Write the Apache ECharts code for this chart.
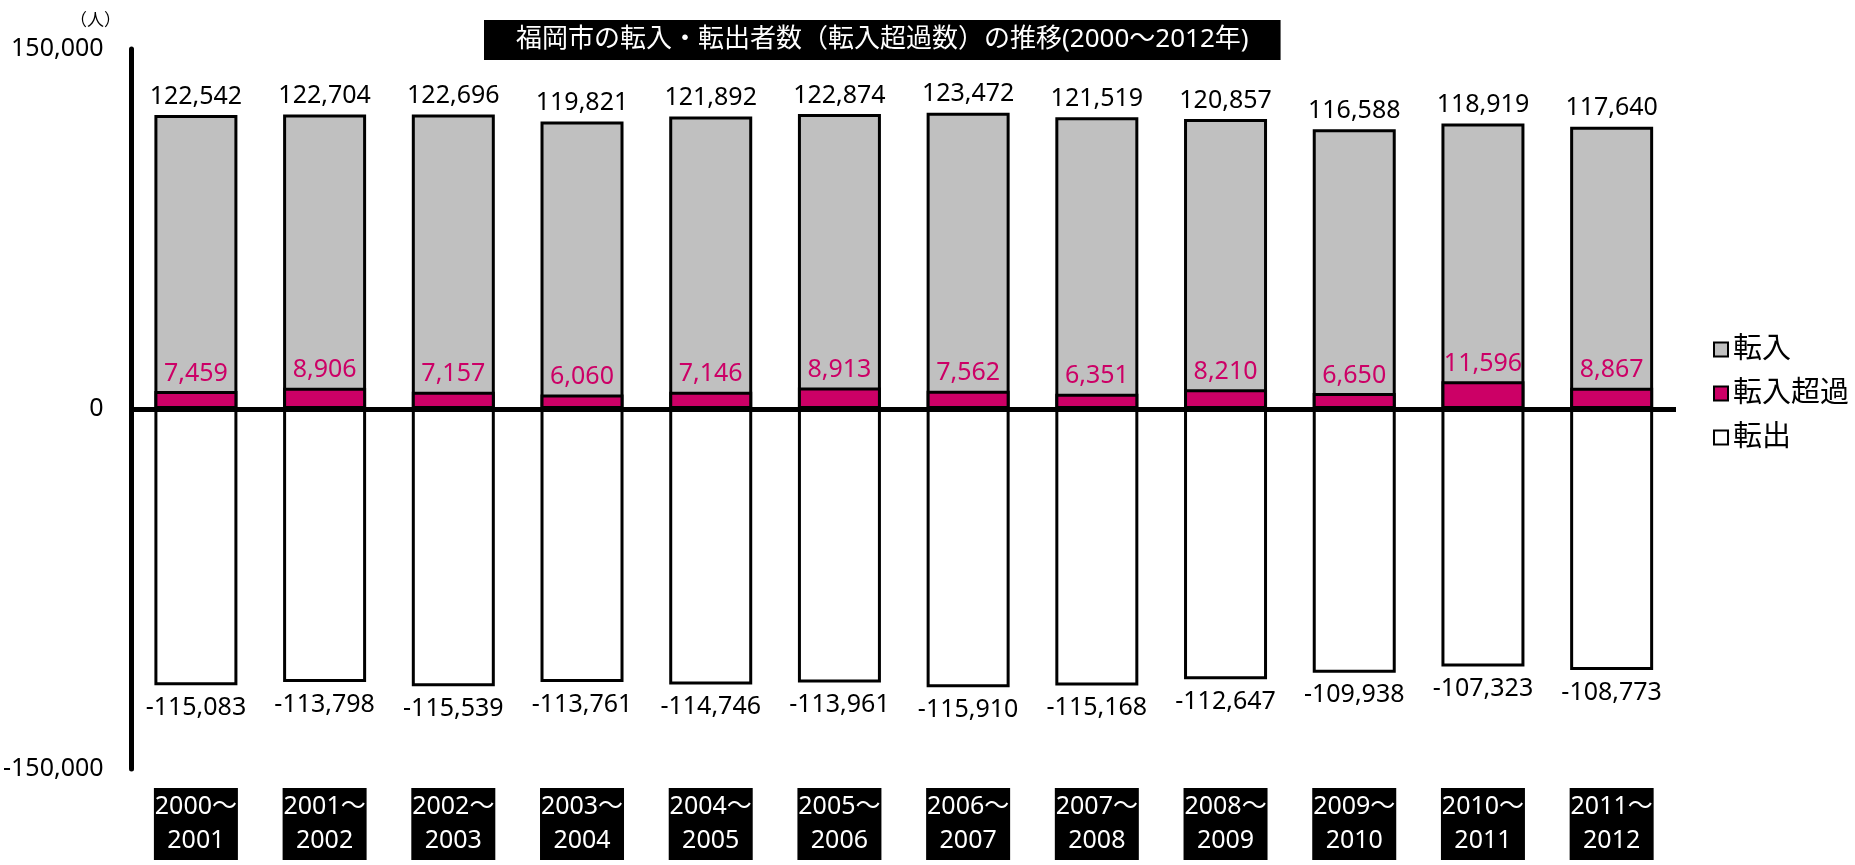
<!DOCTYPE html>
<html>
<head>
<meta charset="utf-8">
<script src="https://cdn.jsdelivr.net/npm/echarts@6/dist/echarts.min.js"></script>
<style>
html,body{margin:0;padding:0;background:#fff;}
#chart{width:1855px;height:865px;}
</style>
</head>
<body>
<div id="chart"></div>
<script>
var categories = ['2000～\n2001','2001～\n2002','2002～\n2003','2003～\n2004','2004～\n2005','2005～\n2006','2006～\n2007','2007～\n2008','2008～\n2009','2009～\n2010','2010～\n2011','2011～\n2012'];
var tennyu = [122542,122704,122696,119821,121892,122874,123472,121519,120857,116588,118919,117640];
var choka = [7459,8906,7157,6060,7146,8913,7562,6351,8210,6650,11596,8867];
var tenshutsu = [-115083,-113798,-115539,-113761,-114746,-113961,-115910,-115168,-112647,-109938,-107323,-108773];
var seriesNames = ['転入','転入超過','転出'];
var titleText = '福岡市の転入・転出者数（転入超過数）の推移(2000～2012年)';
var unitText = '（人）';

var FONT = "'Noto Sans', 'Noto Sans CJK JP', sans-serif";
function fmt(v){ return v.toLocaleString('en-US'); }

var chart = echarts.init(document.getElementById('chart'));
var lblCommon = {show:true, fontFamily:FONT, fontSize:25, formatter:function(p){return fmt(p.value);}};
chart.setOption({
  animation:false,
  backgroundColor:'#fff',
  textStyle:{fontFamily:FONT},
  title:[
    {text:titleText, left:484, top:20, padding:[6,32,6,32], backgroundColor:'#000',
     textStyle:{color:'#fff', fontSize:26, fontWeight:'normal', fontFamily:FONT, lineHeight:28}},
    {text:unitText, left:70, top:11, padding:0,
     textStyle:{color:'#000', fontSize:17, fontWeight:'normal', fontFamily:"'Noto Sans CJK JP', sans-serif"}}
  ],
  legend:{
    orient:'vertical', left:1708, top:330, itemWidth:14, itemHeight:14, itemGap:15,
    icon:'rect',
    textStyle:{fontSize:29, color:'#000', fontFamily:FONT},
    data:seriesNames
  },
  grid:{left:131, right:179, top:49, bottom:96, containLabel:false},
  xAxis:{
    type:'category', data:categories,
    axisLine:{show:false}, axisTick:{show:false},
    axisLabel:{color:'#fff', backgroundColor:'#000', fontSize:25, lineHeight:34,
      width:82, align:'center', padding:[2,1,2,1], margin:19, fontFamily:FONT, interval:0}
  },
  yAxis:{
    type:'value', min:-150000, max:150000, interval:150000,
    axisLine:{show:true, lineStyle:{color:'#000', width:5}},
    axisTick:{show:false}, splitLine:{show:false},
    axisLabel:{color:'#000', fontSize:25, margin:28, fontFamily:FONT, formatter:function(v){return fmt(v);}}
  },
  series:[
    {name:seriesNames[0], type:'bar', data:tennyu, barWidth:83, barGap:'-100%',
     itemStyle:{color:'#C0C0C0', borderColor:'#000', borderWidth:3},
     label:Object.assign({}, lblCommon, {position:'top', distance:6, color:'#000'})},
    {name:seriesNames[1], type:'bar', data:choka, barWidth:83, barGap:'-100%',
     itemStyle:{color:'#CC0066', borderColor:'#000', borderWidth:3},
     label:Object.assign({}, lblCommon, {position:'top', distance:5, color:'#CC0066'})},
    {name:seriesNames[2], type:'bar', data:tenshutsu, barWidth:83, barGap:'-100%',
     itemStyle:{color:'#FFFFFF', borderColor:'#000', borderWidth:3},
     label:Object.assign({}, lblCommon, {position:'bottom', distance:10, color:'#000'}),
     markLine:{silent:true, symbol:['none','none'], label:{show:false},
       lineStyle:{color:'#000', width:5, type:'solid'}, data:[{yAxis:0}]}}
  ]
});
</script>
</body>
</html>
